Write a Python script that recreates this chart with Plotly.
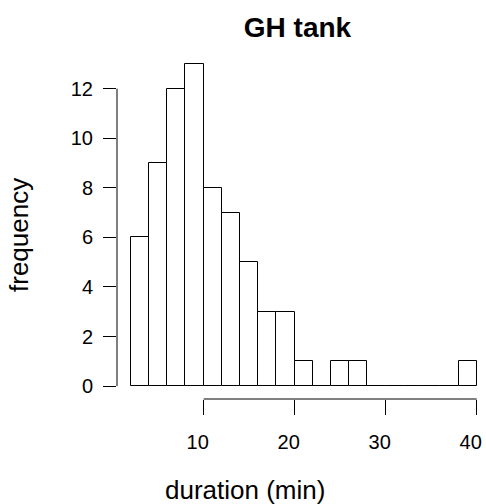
import plotly.graph_objects as go

# histogram of durations, bins 2 min wide
bin_edges = [2, 4, 6, 8, 10, 12, 14, 16, 18, 20, 22, 24, 26, 28, 30, 32, 34, 36, 38, 40]
counts = [6, 9, 12, 13, 8, 7, 5, 3, 3, 1, 0, 1, 1, 0, 0, 0, 0, 0, 1]
x_ticks = [10, 20, 30, 40]
y_ticks = [0, 2, 4, 6, 8, 10, 12]

FONT = "Liberation Sans, Arial, Helvetica, sans-serif"

mids = [(a + b) / 2 for a, b in zip(bin_edges[:-1], bin_edges[1:])]
widths = [b - a for a, b in zip(bin_edges[:-1], bin_edges[1:])]

fig = go.Figure()
fig.add_trace(go.Bar(
    x=mids,
    y=counts,
    width=widths,
    marker_color="white",
    marker_line_color="black",
    marker_line_width=1,
    hovertemplate="%{x}: %{y}<extra></extra>",
))

fig.update_xaxes(
    range=[0.48, 41.02],
    tickvals=x_ticks,
    ticks="outside", ticklen=15, tickwidth=1, tickcolor="black",
    showline=False, showgrid=False, zeroline=False,
    tickfont=dict(family=FONT, size=20, color="black"),
    ticklabelshift=-6,
    ticklabelstandoff=10,
)
fig.update_yaxes(
    range=[-0.52, 13.52],
    tickvals=y_ticks,
    ticks="outside", ticklen=13, tickwidth=1, tickcolor="black",
    showline=False, showgrid=False, zeroline=False,
    tickfont=dict(family=FONT, size=20, color="black"),
    tickangle=0,
    ticklabelstandoff=6,
)

# R-style axis lines spanning only first..last tick
fig.add_shape(type="line", xref="x", yref="paper",
              x0=min(x_ticks), x1=max(x_ticks), y0=0, y1=0,
              line=dict(color="black", width=1))
fig.add_shape(type="line", xref="paper", yref="y",
              x0=0, x1=0, y0=min(y_ticks), y1=max(y_ticks),
              line=dict(color="black", width=1))

fig.add_annotation(text="duration (min)", xref="paper", yref="paper",
                   x=(245 - 117) / 369, y=(399 - 490) / 348,
                   xanchor="center", yanchor="middle", showarrow=False,
                   font=dict(family=FONT, size=26, color="black"))
fig.add_annotation(text="frequency", xref="paper", yref="paper",
                   x=(19 - 117) / 369, y=(399 - 235) / 348, textangle=-90,
                   xanchor="center", yanchor="middle", showarrow=False,
                   font=dict(family=FONT, size=26, color="black"))

fig.update_layout(
    width=486, height=504,
    margin=dict(l=117, r=0, t=51, b=105),
    plot_bgcolor="white",
    paper_bgcolor="white",
    showlegend=False,
    bargap=0,
    title=dict(text="<b>GH tank</b>", xref="container", yref="container",
               x=297.5 / 486, y=1 - 27 / 504, xanchor="center", yanchor="middle",
               font=dict(family=FONT, size=28, color="black")),
)

fig.write_html("out.html", config={"displayModeBar": False},
               post_script="document.body.style.margin='0';")
